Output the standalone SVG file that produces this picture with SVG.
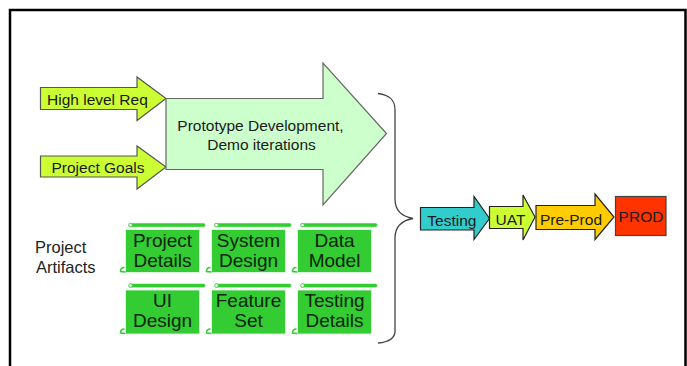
<svg xmlns="http://www.w3.org/2000/svg" width="687" height="366" viewBox="0 0 687 366">
<style>
text{font-family:"Liberation Sans",Arial,sans-serif}
.sm{fill:#ccff33;stroke:#555;stroke-width:1.2}
.lbl{font-size:15.5px;fill:#1a1a1a}
.card{fill:#33cc33;stroke:#e8ffe8;stroke-width:0.8}
.bar{fill:#33cc33;stroke:#e8ffe8;stroke-width:0.6}
.curl{fill:none;stroke:#33cc33;stroke-width:1.6}
.ct{font-size:19px;fill:#0b240b;text-anchor:middle}
.pl{stroke:#222;stroke-width:1.2}
</style>
<rect width="687" height="366" fill="#fff"/>
<path d="M10,367 V10 H685.5 V367" fill="none" stroke="#000" stroke-width="2.5"/>

<g id="connectors">
<path d="M378,93.5 C390,95 395,100 395,110 L395,199 C395,211 402,216.5 413,218.5 C402,220.5 395,226 395,238 L395,331 C395,338 390,342 378,343" fill="none" stroke="#444" stroke-width="1.3"/>
</g>

<g id="high-level-req">
<polygon class="sm" points="40.5,87.5 137,87.5 137,77 166,98.5 137,120.5 137,109.5 40.5,109.5"/>
<text class="lbl" x="47" y="105">High level Req</text>
</g>
<g id="project-goals">
<polygon class="sm" points="40.5,156 137,156 137,146 166,167 137,189 137,177 40.5,177"/>
<text class="lbl" x="51.5" y="173">Project Goals</text>
</g>
<g id="prototype">
<polygon points="166,98.5 323,98.5 323,63 386.5,133.5 323,205 323,169.5 166,169.5" fill="#ccffcc" stroke="#666" stroke-width="1.2"/>
<text class="lbl" x="260.5" y="130.5" text-anchor="middle" fill="#333">Prototype Development,</text>
<text class="lbl" x="261.5" y="149.5" text-anchor="middle" fill="#333">Demo iterations</text>
</g>

<g id="project-artifacts">
<text x="35" y="253" font-size="16.5" fill="#222">Project</text>
<text x="36" y="273" font-size="16.5" fill="#222">Artifacts</text>
</g>

<defs>
<g id="scroll1">
<rect class="bar" x="3" y="-6.5" width="77" height="4.2" rx="2"/>
<circle cx="5" cy="-4.5" r="1.8" fill="#fff" stroke="#33cc33" stroke-width="0.8"/>
<rect class="card" x="0" y="0" width="74" height="43"/>
<path class="curl" d="M-1,38 C-4,38 -5,40 -5,42 L0,42.5"/>
</g>
<g id="scroll2">
<rect class="bar" x="3" y="-6.5" width="77" height="4.2" rx="2"/>
<circle cx="5" cy="-4.5" r="1.8" fill="#fff" stroke="#33cc33" stroke-width="0.8"/>
<rect class="card" x="0" y="0" width="74" height="44"/>
<path class="curl" d="M-1,39 C-4,39 -5,41 -5,43 L0,43.5"/>
</g>
</defs>

<g id="project-details">
<use href="#scroll1" x="125.5" y="229.5"/>
<text class="ct" x="162.5" y="246.7">Project</text>
<text class="ct" x="162.5" y="267.3">Details</text>
</g>
<g id="system-design">
<use href="#scroll1" x="211.5" y="229.5"/>
<text class="ct" x="248.5" y="246.7">System</text>
<text class="ct" x="248.5" y="267.3">Design</text>
</g>
<g id="data-model">
<use href="#scroll1" x="297.5" y="229.5"/>
<text class="ct" x="334.5" y="246.7">Data</text>
<text class="ct" x="334.5" y="267.3">Model</text>
</g>
<g id="ui-design">
<use href="#scroll2" x="125.5" y="290"/>
<text class="ct" x="162.5" y="306.7">UI</text>
<text class="ct" x="162.5" y="327.2">Design</text>
</g>
<g id="feature-set">
<use href="#scroll2" x="211.5" y="290"/>
<text class="ct" x="248.5" y="306.7">Feature</text>
<text class="ct" x="248.5" y="327.2">Set</text>
</g>
<g id="testing-details">
<use href="#scroll2" x="297.5" y="290"/>
<text class="ct" x="334.5" y="306.7">Testing</text>
<text class="ct" x="334.5" y="327.2">Details</text>
</g>

<g id="testing">
<polygon class="pl" fill="#33cccc" points="420.5,207.5 474,207.5 474,196.5 489.5,218.5 474,239.5 474,230 420.5,230"/>
<text class="lbl" x="427.3" y="225.8">Testing</text>
</g>
<g id="uat">
<polygon class="pl" fill="#ccff33" points="489.5,206.5 523,206.5 523,195 535,217 523,240 523,228.5 489.5,228.5"/>
<text class="lbl" x="495.5" y="224.5">UAT</text>
</g>
<g id="pre-prod">
<polygon class="pl" fill="#ffcc00" points="536,205.5 595,205.5 595,194 614,217 595,239.5 595,229.5 536,229.5"/>
<text class="lbl" x="540" y="225">Pre-Prod</text>
</g>
<g id="prod">
<rect x="615.5" y="196.5" width="50.5" height="39" fill="#ff3300" stroke="#444" stroke-width="1.2"/>
<text class="lbl" x="641" y="222.3" text-anchor="middle" fill="#5a0000">PROD</text>
</g>
</svg>
